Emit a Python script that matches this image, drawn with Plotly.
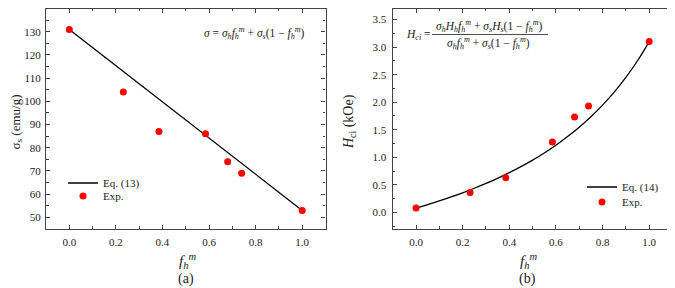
import plotly.graph_objects as go

# ---- data ----
fh_exp = [0.0, 0.232, 0.385, 0.585, 0.68, 0.74, 1.0]
sigma_exp = [131, 104, 87, 86, 74, 69, 53]
hci_exp = [0.08, 0.36, 0.63, 1.28, 1.73, 1.93, 3.10]

fh_eq13 = [0.0, 1.0]
sigma_eq13 = [131, 53]

fh_eq14 = [0.0, 0.05, 0.1, 0.15, 0.2, 0.25, 0.3, 0.35, 0.4, 0.45, 0.5,
           0.55, 0.6, 0.65, 0.7, 0.75, 0.8, 0.85, 0.9, 0.95, 1.0]
hci_eq14 = [0.08, 0.143, 0.21, 0.281, 0.357, 0.439, 0.526, 0.620, 0.722, 0.831, 0.95,
            1.079, 1.22, 1.376, 1.546, 1.736, 1.947, 2.183, 2.449, 2.752, 3.10]

x_ticks = [0.0, 0.2, 0.4, 0.6, 0.8, 1.0]
x_ticklabels = ["0.0", "0.2", "0.4", "0.6", "0.8", "1.0"]
y1_ticks = [50, 60, 70, 80, 90, 100, 110, 120, 130, 140]
y2_ticks = [0.0, 0.5, 1.0, 1.5, 2.0, 2.5, 3.0, 3.5]
y2_ticklabels = ["0.0", "0.5", "1.0", "1.5", "2.0", "2.5", "3.0", "3.5"]

# page body has an 8px margin: the figure is placed at (8, 8)
OFF = 8
W, H = 675 - OFF, 288 - OFF
FONT = "Liberation Serif, Times New Roman, serif"
AX = "#444444"
TXT = "#222222"

fig = go.Figure()

fig.add_trace(go.Scatter(x=fh_eq13, y=sigma_eq13, mode="lines", name="Eq. (13)",
                         line=dict(color="black", width=1.3), xaxis="x", yaxis="y",
                         legend="legend", showlegend=True))
fig.add_trace(go.Scatter(x=fh_exp, y=sigma_exp, mode="markers", name="Exp.",
                         marker=dict(color="#ff0000", size=7), xaxis="x", yaxis="y",
                         legend="legend2", showlegend=True))
fig.add_trace(go.Scatter(x=fh_eq14, y=hci_eq14, mode="lines", name="Eq. (14)",
                         line=dict(color="black", width=1.3, shape="spline"),
                         xaxis="x2", yaxis="y2", legend="legend3", showlegend=True))
fig.add_trace(go.Scatter(x=fh_exp, y=hci_exp, mode="markers", name="Exp.",
                         marker=dict(color="#ff0000", size=7), xaxis="x2", yaxis="y2",
                         legend="legend4", showlegend=True))

def clamp(v):
    return max(0.0, min(1.0, v))

def px_x(p):
    return clamp((p - OFF) / W)

def px_y(p):
    return clamp(1 - (p - OFF) / H)

common = dict(showline=True, linecolor=AX, linewidth=1.3, mirror="allticks",
              ticks="inside", ticklen=4, tickwidth=1, tickcolor=AX,
              showgrid=False, zeroline=False,
              tickfont=dict(family=FONT, size=11, color=TXT))

fig.update_layout(
    width=W, height=H,
    margin=dict(l=0, r=0, t=0, b=0),
    paper_bgcolor="white", plot_bgcolor="white",
    font=dict(family=FONT, color=TXT),
    showlegend=True,
    xaxis=dict(domain=[px_x(46), px_x(325.5)], range=[-0.1, 1.1],
               tickvals=x_ticks, ticktext=x_ticklabels,
               minor=dict(dtick=0.1, tick0=0, ticks="inside", ticklen=2.5, tickcolor=AX),
               anchor="y", ticklabelstandoff=3, **common),
    yaxis=dict(domain=[px_y(229), px_y(8.5)], range=[45, 140],
               tickvals=y1_ticks,
               minor=dict(dtick=5, tick0=0, ticks="inside", ticklen=2.5, tickcolor=AX),
               anchor="x", ticklabelstandoff=2, **common),
    xaxis2=dict(domain=[px_x(392.7), px_x(672.5)], range=[-0.1, 1.1],
                tickvals=x_ticks, ticktext=x_ticklabels,
                minor=dict(dtick=0.1, tick0=0, ticks="inside", ticklen=2.5, tickcolor=AX),
                anchor="y2", ticklabelstandoff=3, **common),
    yaxis2=dict(domain=[px_y(229), px_y(8.5)], range=[-0.3, 3.7],
                tickvals=y2_ticks, ticktext=y2_ticklabels,
                minor=dict(dtick=0.25, tick0=0, ticks="inside", ticklen=2.5, tickcolor=AX),
                anchor="x2", ticklabelstandoff=3, **common),
)

legfont = dict(family=FONT, size=11, color=TXT)
for name, xp, yp in [("legend", 63, 183), ("legend2", 63, 196),
                     ("legend3", 582, 187), ("legend4", 582, 202)]:
    fig.update_layout({name: dict(x=px_x(xp), y=px_y(yp), xanchor="left", yanchor="middle",
                                  bgcolor="rgba(0,0,0,0)", borderwidth=0, font=legfont,
                                  itemwidth=30, visible=True)})

def ann(text, x, y, size, angle=0, xanchor="center"):
    fig.add_annotation(text=text, x=px_x(x), y=px_y(y), xref="paper", yref="paper",
                       showarrow=False, textangle=angle, xanchor=xanchor, yanchor="middle",
                       font=dict(family=FONT, size=size, color=TXT))

# axis titles
ann("σ<sub>s</sub> (emu/g)", 15.5, 122, 13, -90)
ann("<i>H</i><sub>ci</sub> (kOe)", 349, 122, 14, -90)
ann("<i>f</i><sub><i>h</i></sub><sup><i>m</i></sup>", 187, 261, 15)
ann("<i>f</i><sub><i>h</i></sub><sup><i>m</i></sup>", 528, 261, 15)
ann("(a)", 186, 279, 14)
ann("(b)", 527, 279, 14)

# equations
EQ = 11.5
ann("<i>σ</i> = <i>σ</i><sub><i>h</i></sub><i>f</i><sub><i>h</i></sub><sup><i>m</i></sup> + "
    "<i>σ</i><sub><i>s</i></sub>(1 − <i>f</i><sub><i>h</i></sub><sup><i>m</i></sup>)", 254, 33, EQ)
ann("<i>H</i><sub><i>ci</i></sub> =", 418, 35, EQ)
ann("<i>σ</i><sub><i>h</i></sub><i>H</i><sub><i>h</i></sub><i>f</i><sub><i>h</i></sub><sup><i>m</i></sup> + "
    "<i>σ</i><sub><i>s</i></sub><i>H</i><sub><i>s</i></sub>(1 − <i>f</i><sub><i>h</i></sub><sup><i>m</i></sup>)",
    489, 26, EQ)
ann("<i>σ</i><sub><i>h</i></sub><i>f</i><sub><i>h</i></sub><sup><i>m</i></sup> + "
    "<i>σ</i><sub><i>s</i></sub>(1 − <i>f</i><sub><i>h</i></sub><sup><i>m</i></sup>)", 488, 43, EQ)
fig.add_shape(type="line", xref="paper", yref="paper",
              x0=px_x(432), x1=px_x(548), y0=px_y(34.5), y1=px_y(34.5),
              line=dict(color=TXT, width=0.8))

fig.write_html("out.html")
